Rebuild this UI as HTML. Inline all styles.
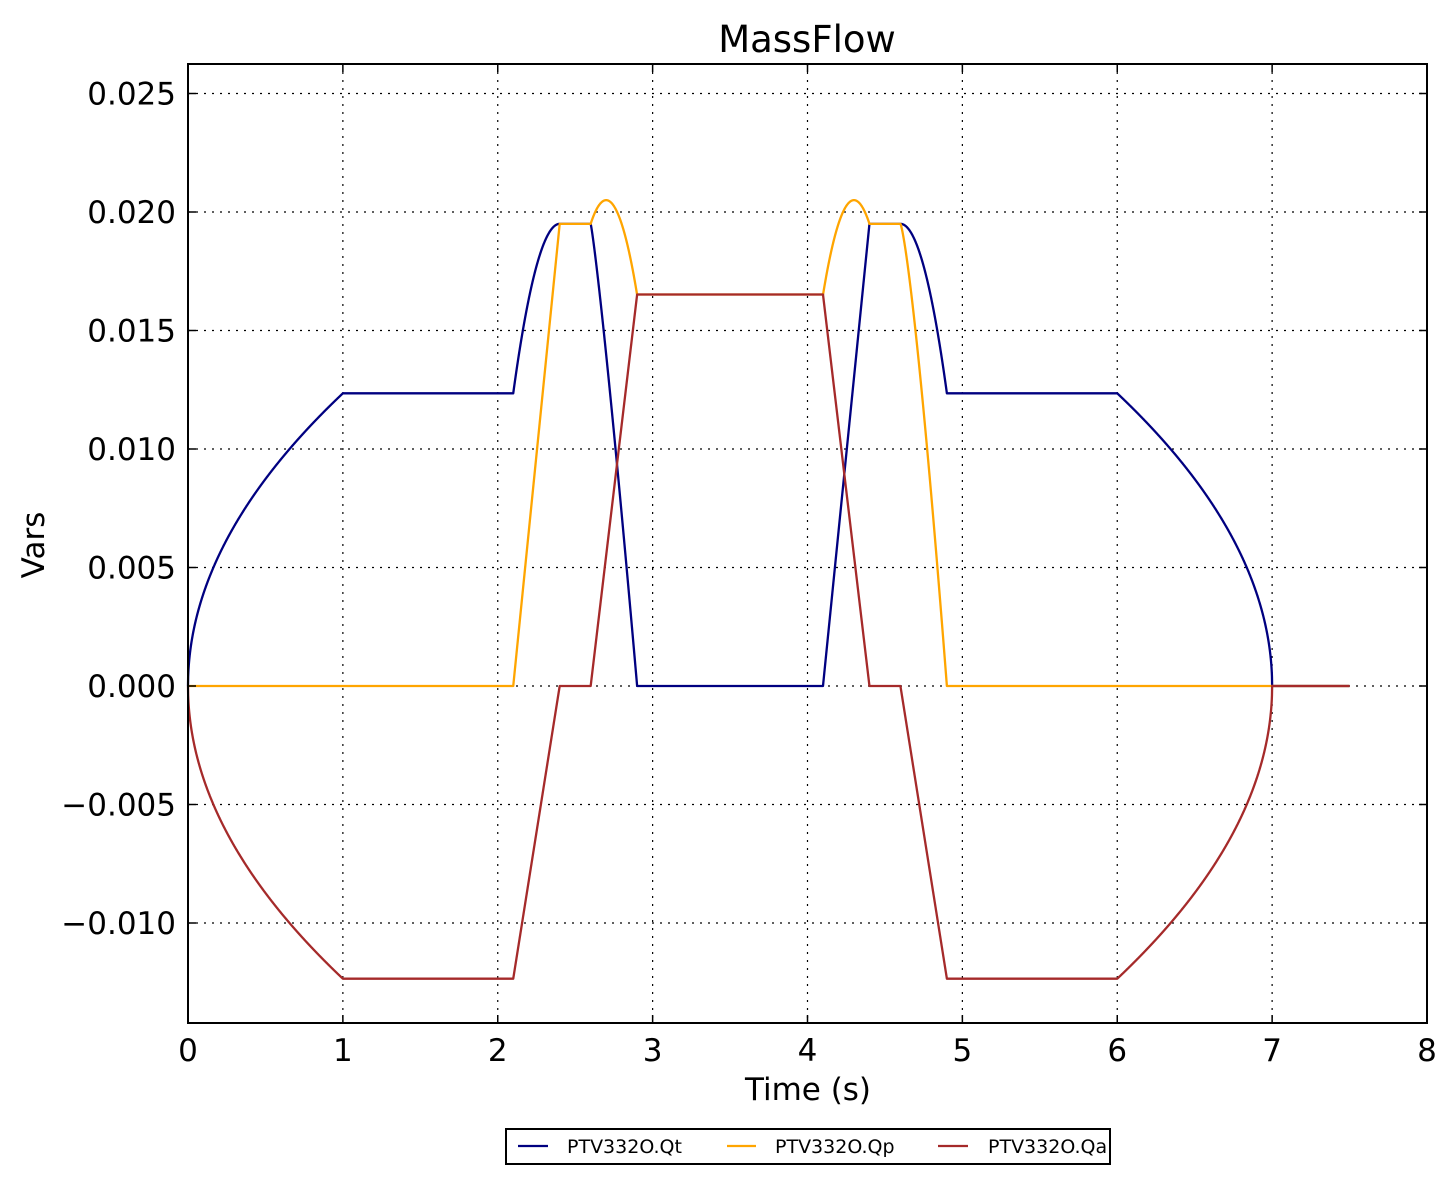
<!DOCTYPE html>
<html><head><meta charset="utf-8"><style>
body{margin:0;background:#fff;width:1456px;height:1184px;overflow:hidden}
text{font-family:"DejaVu Sans","Liberation Sans",sans-serif;fill:#000}
</style></head><body>
<svg id="s" width="1456" height="1184" xmlns="http://www.w3.org/2000/svg">
<rect width="1456" height="1184" fill="#fff"/>
<g id="grid" stroke="#000" stroke-width="1.2" stroke-dasharray="2,6"></g>
<g id="series" fill="none" stroke-width="2.3" stroke-linejoin="round"></g>
<rect x="188" y="64" width="1239" height="959" fill="none" stroke="#000" stroke-width="2"/>
<g id="ticks" stroke="#000" stroke-width="1.5"></g>
<g id="labels" font-size="31"></g>
<text x="807" y="52" font-size="37" text-anchor="middle">MassFlow</text>
<text x="808" y="1100" font-size="31" text-anchor="middle">Time (s)</text>
<text transform="translate(44,545) rotate(-90)" font-size="31" text-anchor="middle">Vars</text>
<rect x="506" y="1129" width="604" height="35" fill="#fff" stroke="#000" stroke-width="2"/>
<line x1="518" y1="1146" x2="548" y2="1146" stroke="#000080" stroke-width="2.3"/>
<text x="567" y="1153" font-size="19">PTV332O.Qt</text>
<line x1="727" y1="1146" x2="756" y2="1146" stroke="#ffa500" stroke-width="2.3"/>
<text x="775" y="1153" font-size="19">PTV332O.Qp</text>
<line x1="938" y1="1146" x2="968" y2="1146" stroke="#a52a2a" stroke-width="2.3"/>
<text x="988" y="1153" font-size="19">PTV332O.Qa</text>
</svg>
<script>
const X=t=>188+t*154.875, Y=v=>686-v*23700;
const NS="http://www.w3.org/2000/svg";
function el(p,tag,a,txt){const e=document.createElementNS(NS,tag);for(const k in a)e.setAttribute(k,a[k]);if(txt!==undefined)e.textContent=txt;document.getElementById(p).appendChild(e);}
for(let i=1;i<8;i++)el("grid","line",{x1:X(i),y1:64,x2:X(i),y2:1023});
const yt=[-0.01,-0.005,0,0.005,0.01,0.015,0.02,0.025];
yt.forEach(v=>el("grid","line",{x1:188,y1:Y(v),x2:1427,y2:Y(v)}));
for(let i=0;i<=8;i++){el("ticks","line",{x1:X(i),y1:1023,x2:X(i),y2:1015});el("ticks","line",{x1:X(i),y1:64,x2:X(i),y2:72});
el("labels","text",{x:X(i),y:1061,"text-anchor":"middle"},String(i));}
yt.forEach(v=>{el("ticks","line",{x1:188,y1:Y(v),x2:196,y2:Y(v)});el("ticks","line",{x1:1427,y1:Y(v),x2:1419,y2:Y(v)});
let s=Math.abs(v).toFixed(3);if(v<0)s="\u2212"+s;el("labels","text",{x:176,y:Y(v)+11,"text-anchor":"end"},s);});
const A=0.01235,P=0.0195,C=0.01652;
function qt(t){
 if(t<=1)return A*Math.sqrt(t);
 if(t<=2.1)return A;
 if(t<=2.4){let u=(t-2.1)/0.3;return A+(P-A)*(1-(1-u)*(1-u));}
 if(t<=2.6)return P;
 if(t<=2.9){let u=(t-2.6)/0.3;return P*(1-Math.pow(u,1.15));}
 if(t<=4.1)return 0;
 if(t<=4.4)return P*(t-4.1)/0.3;
 if(t<=4.6)return P;
 if(t<=4.9){let u=(t-4.6)/0.3;return P-(P-A)*u*u;}
 if(t<=6)return A;
 if(t<=7)return A*Math.sqrt(7-t);
 return 0;}
function qp(t){
 if(t<=2.1)return 0;
 if(t<=2.4)return P*(t-2.1)/0.3;
 if(t<=2.6)return P;
 if(t<=2.9)return 0.0205-0.1*(t-2.7)*(t-2.7);
 if(t<=4.1)return C;
 if(t<=4.4)return 0.0205-0.1*(t-4.3)*(t-4.3);
 if(t<=4.6)return P;
 if(t<=4.9){let u=(t-4.6)/0.3;return P*(1-Math.pow(u,1.3));}
 return 0;}
function qa(t){
 if(t<=1)return -A*Math.sqrt(t);
 if(t<=2.1)return -A;
 if(t<=2.4)return -A+A*(t-2.1)/0.3;
 if(t<=2.6)return 0;
 if(t<=2.9)return C*(t-2.6)/0.3;
 if(t<=4.1)return C;
 if(t<=4.4)return C*(1-(t-4.1)/0.3);
 if(t<=4.6)return 0;
 if(t<=4.9)return -A*(t-4.6)/0.3;
 if(t<=6)return -A;
 if(t<=7)return -A*Math.sqrt(7-t);
 return 0;}
function path(f,col){let d="";for(let i=0;i<=7500;i++){let t=i/1000;d+=(i?"L":"M")+X(t).toFixed(2)+","+Y(f(t)).toFixed(2);}
el("series","path",{d:d,stroke:col});}
path(qt,"#000080");path(qp,"#ffa500");path(qa,"#a52a2a");
</script>
</body></html>
